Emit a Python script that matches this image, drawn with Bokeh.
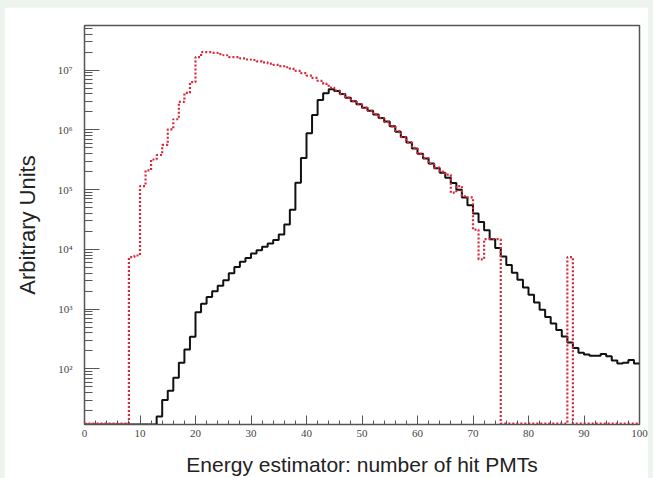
import numpy as np
from bokeh.plotting import figure
from bokeh.layouts import column
from bokeh.models import Range1d, FixedTicker, CustomJSTickFormatter
from bokeh.embed import file_html
from bokeh.resources import INLINE

# ---- data (bin width 1, bins 0..99) ----
bin_edges = list(range(0, 101))

black_counts = [
    0, 0, 0, 0, 0, 0, 0, 0, 0, 0,
    0, 0, 0, 16, 30, 43, 71, 126, 210, 345,
    890, 1230, 1590, 2000, 2450, 3030, 3980, 5070, 6200, 7200,
    8500, 9700, 11100, 12600, 14300, 17800, 26000, 46000, 130000, 340000,
    880000, 1780000, 3160000, 4100000, 4800000, 4470000, 3980000, 3470000, 3020000, 2690000,
    2340000, 2090000, 1820000, 1580000, 1380000, 1150000, 933000, 759000, 617000, 490000,
    398000, 331000, 275000, 229000, 191000, 158000, 129000, 100000, 74000, 55000,
    40000, 28800, 20900, 14800, 10500, 7600, 5500, 4070, 3090, 2290,
    1740, 1290, 980, 740, 575, 447, 347, 275, 224, 186,
    174, 166, 166, 178, 162, 138, 123, 126, 141, 123,
]

red_counts = [
    0, 0, 0, 0, 0, 0, 0, 0, 7400, 7900,
    115000, 210000, 320000, 380000, 560000, 1020000, 1510000, 2950000, 4170000, 6310000,
    16600000, 20000000, 20000000, 19500000, 18600000, 17800000, 16600000, 16600000, 15800000, 15100000,
    14800000, 14100000, 13500000, 12900000, 12300000, 11700000, 11200000, 10500000, 9770000, 8910000,
    8130000, 7410000, 6610000, 5890000, 5130000, 4570000, 3980000, 3470000, 3020000, 2690000,
    2340000, 2090000, 1820000, 1580000, 1350000, 1150000, 955000, 759000, 617000, 501000,
    398000, 339000, 269000, 234000, 200000, 178000, 89000, 115000, 77600, 74000,
    21400, 6800, 14800, 14800, 14800, 0, 0, 0, 0, 0,
    0, 0, 0, 0, 0, 0, 0, 7400, 0, 0,
    0, 0, 0, 0, 0, 0, 0, 0, 0, 0,
]

x_major_ticks = [0, 10, 20, 30, 40, 50, 60, 70, 80, 90, 100]
x_minor_ticks = list(range(0, 101, 2))
y_exponents = [2, 3, 4, 5, 6, 7]

X_TITLE = "Energy estimator: number of hit PMTs"
Y_TITLE = "Arbitrary Units"

y_lo, y_hi = 11.7, 5.6e7


def step_arrays(counts, floor):
    # empty bins are drawn along the bottom axis
    ys = [c if c > 0 else floor for c in counts]
    return bin_edges, ys + [ys[-1]]


p = figure(
    width=644, height=471,
    x_range=Range1d(0, 100), y_range=Range1d(y_lo, y_hi),
    y_axis_type="log",
    output_backend="svg", toolbar_location=None,
    min_border_left=80, min_border_right=9, min_border_top=18, min_border_bottom=52,
    background_fill_color="white", border_fill_color="white",
)
p.margin = (7, 5, 0, 4)
p.xgrid.visible = False
p.ygrid.visible = False
p.outline_line_color = "#555555"
p.outline_line_width = 1.5

bx, by = step_arrays(black_counts, y_lo)
rx, ry = step_arrays(red_counts, y_lo * 1.04)
p.step(bx, by, mode="after", line_color="#111111", line_width=2)
p.step(rx, ry, mode="after", line_color="#d8283a", line_width=2.2, line_dash="2 2")

# x axis
xa = p.xaxis[0]
xa.ticker = FixedTicker(ticks=x_major_ticks, minor_ticks=x_minor_ticks)
xa.major_tick_in = 9
xa.major_tick_out = 0
xa.minor_tick_in = 4
xa.minor_tick_out = 0
xa.axis_line_color = "#555555"
xa.major_tick_line_color = "#555555"
xa.minor_tick_line_color = "#555555"
xa.major_label_text_font = "Liberation Serif"
xa.major_label_text_font_size = "11px"
xa.major_label_text_color = "#444444"
xa.major_label_standoff = 5
xa.axis_label = X_TITLE
xa.axis_label_text_font = "Liberation Sans"
xa.axis_label_text_font_style = "normal"
xa.axis_label_text_font_size = "21px"
xa.axis_label_text_color = "#222222"
xa.axis_label_standoff = 13

# y axis
ya = p.yaxis[0]
y_major = [10.0 ** e for e in y_exponents]
y_minor = [k * 10.0 ** e for e in range(1, 8) for k in range(1, 10) if y_lo <= k * 10.0 ** e <= y_hi]
ya.ticker = FixedTicker(ticks=y_major, minor_ticks=y_minor)
ya.formatter = CustomJSTickFormatter(code="""
const sup = {'0':'\u2070','1':'\u00b9','2':'\u00b2','3':'\u00b3','4':'\u2074','5':'\u2075','6':'\u2076','7':'\u2077','8':'\u2078','9':'\u2079'};
const e = Math.round(Math.log10(tick));
return '10' + String(e).split('').map(c => sup[c]).join('');
""")
ya.major_tick_in = 15
ya.major_tick_out = 0
ya.minor_tick_in = 8
ya.minor_tick_out = 0
ya.axis_line_color = "#555555"
ya.major_tick_line_color = "#555555"
ya.minor_tick_line_color = "#555555"
ya.major_label_text_font = "Liberation Serif"
ya.major_label_text_font_size = "11px"
ya.major_label_text_color = "#444444"
ya.major_label_standoff = 12
ya.axis_label = Y_TITLE
ya.axis_label_text_font = "Liberation Sans"
ya.axis_label_text_font_style = "normal"
ya.axis_label_text_font_size = "22px"
ya.axis_label_text_color = "#222222"
ya.axis_label_standoff = 15

layout = column(p, styles={"background-color": "#edf4ee"})

open("out.html", "w").write(file_html(layout, INLINE))
